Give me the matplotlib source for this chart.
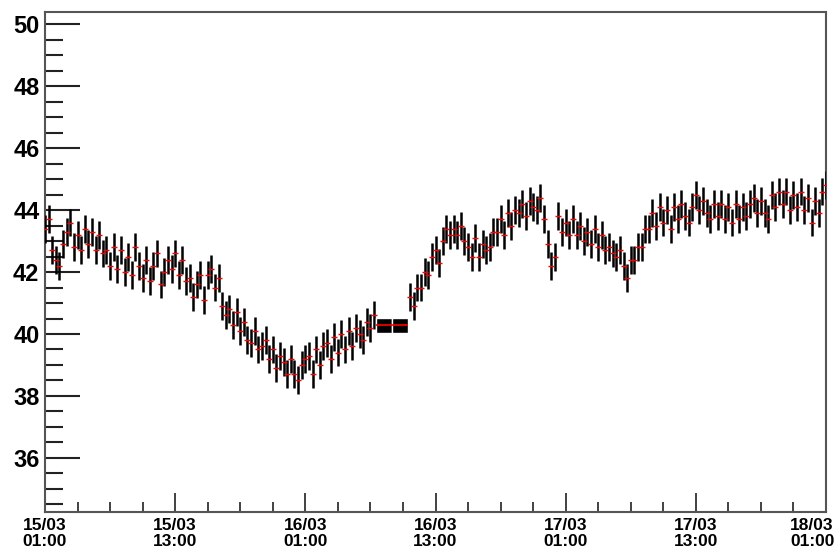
import matplotlib
matplotlib.use("Agg")
import matplotlib.pyplot as plt
import matplotlib.dates as mdates
import matplotlib.transforms as mtransforms
import numpy as np
import pandas as pd

# --- data ---
# first run: every 20 min starting 15/03 01:00
run1_start = "2010-03-15 01:00"
run1_values = [
    43.4, 43.7, 42.7, 42.4, 42.2, 42.9, 43.3, 43.6, 42.8, 43.2, 42.7, 43.4,
    42.9, 43.3, 42.7, 43.2, 42.6, 42.7, 42.2, 42.8, 42.1, 42.7, 42.0, 42.5,
    41.9, 42.8, 42.2, 41.8, 42.4, 41.7, 42.2, 42.6, 41.6, 42.0, 42.4, 42.1,
    42.6, 41.9, 42.4, 41.7, 41.8, 41.2, 41.6, 41.9, 41.1, 41.9, 42.1, 41.5,
    41.8, 40.9, 40.6, 40.8, 40.3, 40.7, 40.1, 40.4, 39.8, 39.7, 40.1, 39.5,
    39.6, 39.8, 39.2, 39.5, 38.9, 39.3, 39.1, 38.7, 39.2, 38.7, 38.5, 39.0,
    39.2, 39.3, 38.7, 39.5, 39.0, 39.6, 39.7, 39.2, 39.9, 39.4, 40.0, 39.5,
    40.1, 39.6, 40.2, 40.0, 39.8, 40.4, 40.2, 40.6,
]
# second run: every 20 min starting 16/03 10:40
run2_start = "2010-03-16 10:40"
run2_values = [
    41.2,
    40.9, 41.5, 41.5, 42.0, 41.9, 42.5, 42.7, 42.3, 43.0, 43.4, 43.2, 43.4,
    43.2, 43.5, 43.0, 42.8, 42.5, 43.1, 42.5, 42.9, 42.7, 42.8, 43.3, 43.3,
    43.7, 43.2, 43.9, 43.5, 44.0, 43.9, 44.2, 43.8, 44.3, 44.1, 44.0, 44.4,
    43.7, 42.9, 42.2, 42.5, 43.8, 43.3, 43.6, 43.2, 43.7, 43.2, 43.5, 43.0,
    43.3, 42.9, 43.4, 42.8, 43.2, 42.7, 42.8, 42.6, 42.5, 42.7, 42.2, 41.8,
    42.4, 42.4, 42.8, 42.8, 43.4, 43.4, 43.9, 43.5, 44.1, 43.6, 44.0, 43.4,
    44.1, 43.7, 44.2, 43.8, 43.6, 44.1, 44.5, 44.0, 44.3, 43.9, 43.7, 44.2,
    43.8, 44.2, 43.7, 44.1, 43.6, 44.2, 43.7, 44.1, 43.8, 44.2, 44.4, 43.9,
    44.3, 43.9, 43.7, 44.5, 44.1, 44.6, 44.2, 44.6, 44.0, 44.5, 44.1, 44.6,
    44.0, 44.4, 43.6, 44.3, 43.9, 44.6, 44.8,
]
point_error = 0.45
step = "20min"

# two wide bins in the gap between the runs
box_times = ["2010-03-16 08:15", "2010-03-16 09:45"]
box_values = [40.28, 40.28]
box_errors = [0.24, 0.24]
box_width_h = 1.45

x_start = "2010-03-15 01:00"
x_end = "2010-03-18 01:00"
y_range = (34.25, 50.4)

# --- plot ---
plt.rcParams["font.family"] = ["Liberation Sans", "DejaVu Sans"]
plt.rcParams["font.weight"] = "bold"

fig = plt.figure(figsize=(8.37, 5.51), dpi=100)
ax = fig.add_axes([45 / 837, 1 - 512 / 551, 781 / 837, 500 / 551])

t1 = pd.date_range(run1_start, periods=len(run1_values), freq=step)
t2 = pd.date_range(run2_start, periods=len(run2_values), freq=step)
for t, v in [(t1, run1_values), (t2, run2_values)]:
    ax.errorbar(t, v, yerr=point_error, fmt="_", color="red", ms=4, mew=1,
                ecolor="black", elinewidth=1.8, capsize=0, zorder=3)

bt = pd.to_datetime(box_times)
bw = pd.Timedelta(hours=box_width_h)
ax.bar(bt, 2 * np.array(box_errors), width=bw, bottom=np.array(box_values) - np.array(box_errors),
       color="black", edgecolor="white", linewidth=1, zorder=3)
ax.errorbar(bt, box_values, xerr=bw / 2, fmt="none", ecolor="red", elinewidth=1.2, zorder=4)

ax.set_xlim(pd.Timestamp(x_start), pd.Timestamp(x_end))
ax.set_ylim(*y_range)

ax.xaxis.set_major_locator(mdates.HourLocator(byhour=[1, 13]))
ax.xaxis.set_minor_locator(mdates.HourLocator(byhour=[4, 7, 10, 16, 19, 22]))
ax.xaxis.set_major_formatter(mdates.DateFormatter("%d/%m\n%H:%M"))
ax.yaxis.set_major_locator(matplotlib.ticker.MultipleLocator(2))
ax.yaxis.set_minor_locator(matplotlib.ticker.MultipleLocator(0.5))

ax.tick_params(axis="x", which="major", direction="in", length=14, width=1.3,
               color="#333333", labelsize=12.5, pad=4, top=False)
ax.tick_params(axis="x", which="minor", direction="in", length=7, width=1.3,
               color="#333333", top=False)
ax.tick_params(axis="y", which="major", direction="in", length=25, width=1.5,
               color="#222222", labelsize=17, pad=4, right=False)
ax.tick_params(axis="y", which="minor", direction="in", length=13, width=1.5,
               color="#222222", right=False)

fig.canvas.draw()
xlabels = ax.get_xticklabels()
for lab in xlabels:
    lab.set_linespacing(1.1)
# last label sits on the right edge; nudge it inward
xlabels[-1].set_transform(xlabels[-1].get_transform() +
                          mtransforms.ScaledTranslation(-10 / 72, 0, fig.dpi_scale_trans))

for s in ax.spines.values():
    s.set_color("#555555")
    s.set_linewidth(1.5)

fig.savefig("out.png", dpi=100)
